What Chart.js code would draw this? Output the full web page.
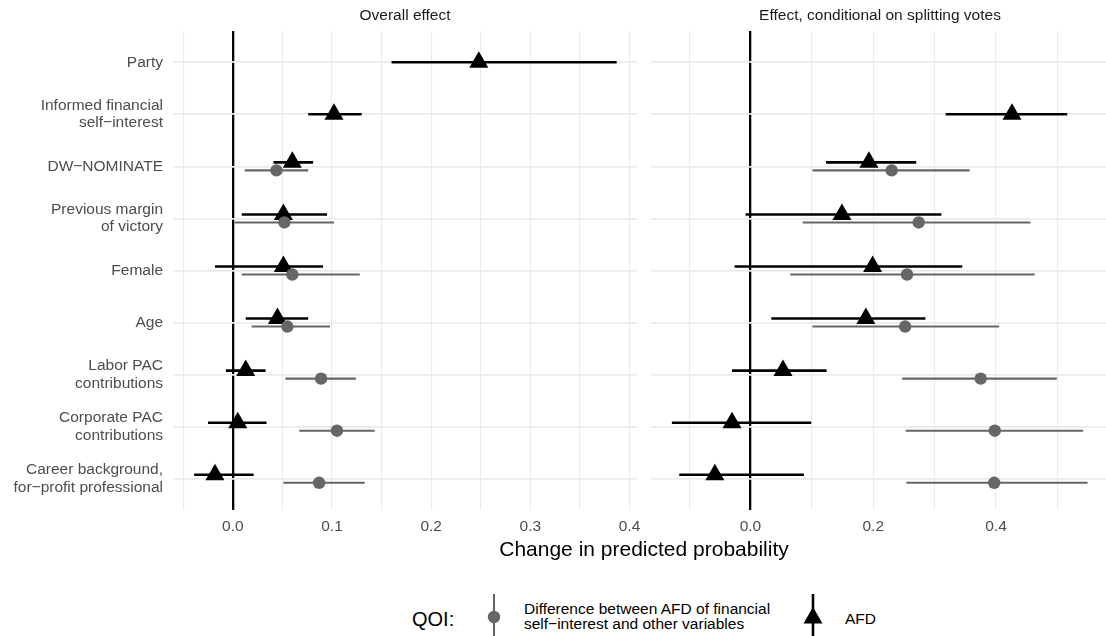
<!DOCTYPE html>
<html>
<head>
<meta charset="utf-8">
<script src="https://cdn.jsdelivr.net/npm/chart.js@4.4.0/dist/chart.umd.min.js"></script>
<style>
    body { margin: 0; width: 1106px; height: 636px; overflow: hidden; background: #fff; position: relative;
           font-family: "Liberation Sans", Arial, sans-serif; }
    canvas { position: absolute; top: 0; }
    #overallChart { left: 0; }
    #splitChart { left: 640px; }
    #xTitle { position: absolute; left: 444px; width: 400px; top: 537px; text-align: center; font-size: 21px; color: #000; }
    .lg { position: absolute; }
    #qoi { left: 412px; top: 608px; font-size: 20px; color: #000; }
    #diffText { left: 524px; top: 601px; font-size: 15.5px; line-height: 15px; color: #000; }
    #afdText { left: 845px; top: 610px; font-size: 15.5px; color: #000; }
</style>
</head>
<body>
<canvas id="overallChart" width="648" height="545"></canvas>
<canvas id="splitChart" width="480" height="545"></canvas>
<div id="xTitle">Change in predicted probability</div>
<div class="lg" id="qoi">QOI:</div>
<svg class="lg" style="left:484px;top:594px" width="20" height="42">
    <line x1="10" y1="0" x2="10" y2="42" stroke="#666" stroke-width="2.1"></line>
    <circle cx="10" cy="23" r="6.2" fill="#666"></circle>
</svg>
<div class="lg" id="diffText">Difference between AFD of financial<br>self−interest and other variables</div>
<svg class="lg" style="left:801px;top:594px" width="24" height="42">
    <line x1="12" y1="0" x2="12" y2="42" stroke="#000" stroke-width="2.6"></line>
    <polygon points="12,13 21.5,29.5 2.5,29.5" fill="#000"></polygon>
</svg>
<div class="lg" id="afdText">AFD</div>
<script>
// variables (top to bottom)
const variables = [
    'Party',
    ['Informed financial', 'self−interest'],
    'DW−NOMINATE',
    ['Previous margin', 'of victory'],
    'Female',
    'Age',
    ['Labor PAC', 'contributions'],
    ['Corporate PAC', 'contributions'],
    ['Career background,', 'for−profit professional']
];

// Overall effect
const afdOverall   = [0.248, 0.102, 0.060, 0.051, 0.051, 0.045, 0.013, 0.005, -0.018];
const afdOverallLo = [0.160, 0.076, 0.041, 0.009, -0.018, 0.013, -0.007, -0.025, -0.039];
const afdOverallHi = [0.387, 0.130, 0.081, 0.095, 0.091, 0.076, 0.033, 0.034, 0.021];
const diffOverall   = [null, null, 0.044, 0.052, 0.060, 0.055, 0.089, 0.105, 0.087];
const diffOverallLo = [null, null, 0.012, 0.002, 0.009, 0.019, 0.053, 0.067, 0.051];
const diffOverallHi = [null, null, 0.076, 0.102, 0.128, 0.098, 0.124, 0.143, 0.133];

// Effect, conditional on splitting votes
const afdSplit   = [null, 0.426, 0.193, 0.149, 0.199, 0.188, 0.053, -0.030, -0.058];
const afdSplitLo = [null, 0.318, 0.123, -0.008, -0.026, 0.034, -0.030, -0.128, -0.116];
const afdSplitHi = [null, 0.516, 0.270, 0.311, 0.345, 0.285, 0.124, 0.099, 0.087];
const diffSplit   = [null, null, 0.230, 0.274, 0.255, 0.252, 0.375, 0.398, 0.397];
const diffSplitLo = [null, null, 0.101, 0.085, 0.065, 0.101, 0.247, 0.253, 0.254];
const diffSplitHi = [null, null, 0.357, 0.456, 0.463, 0.405, 0.499, 0.542, 0.549];

// x ticks
const overallTicks = [-0.05, 0, 0.05, 0.1, 0.15, 0.2, 0.25, 0.3, 0.35, 0.4];
const overallTickLabels = ['', '0.0', '', '0.1', '', '0.2', '', '0.3', '', '0.4'];
const splitTicks = [-0.1, 0, 0.1, 0.2, 0.3, 0.4, 0.5];
const splitTickLabels = ['', '0.0', '', '0.2', '', '0.4', ''];

const FONT = '"Liberation Sans", Arial, sans-serif';
const DODGE = 0.077;

// strip title over the panel
const stripPlugin = {
    id: 'strip',
    afterDraw(chart, args, opts) {
        const ctx = chart.ctx;
        const area = chart.chartArea;
        ctx.save();
        ctx.font = '15.5px ' + FONT;
        ctx.fillStyle = '#1a1a1a';
        ctx.textAlign = 'center';
        ctx.textBaseline = 'middle';
        ctx.fillText(opts.text, (area.left + area.right) / 2, 16);
        ctx.restore();
    }
};

function pointsAndBars(est, lo, hi, other, dir) {
    const pts = [];
    const bars = [];
    est.forEach((v, i) => {
        if (v === null) return;
        const y = i + 1 + (other[i] !== null ? dir * DODGE : 0);
        pts.push({x: v, y: y});
        bars.push({x: lo[i], y: y}, {x: hi[i], y: y}, {x: null, y: null});
    });
    return {pts, bars};
}

function makeChart(id, title, afd, diff, xMin, xMax, ticks, tickLabels, showLabels, padding) {
    const a = pointsAndBars(afd[0], afd[1], afd[2], diff[0], -1);
    const d = pointsAndBars(diff[0], diff[1], diff[2], afd[0], 1);

    const ctx = document.getElementById(id).getContext('2d');
    return new Chart(ctx, {
        type: 'scatter',
        data: {
            datasets: [
                {
                    label: 'Difference',
                    data: d.pts,
                    pointStyle: 'circle',
                    pointRadius: 6.2,
                    pointBorderWidth: 0,
                    backgroundColor: '#666666',
                    borderColor: '#666666'
                },
                {
                    type: 'line',
                    label: 'Difference CI',
                    data: d.bars,
                    borderColor: '#666666',
                    borderWidth: 2.1,
                    pointRadius: 0,
                    spanGaps: false,
                    fill: false
                },
                {
                    label: 'AFD',
                    data: a.pts,
                    pointStyle: 'triangle',
                    pointRadius: 11,
                    pointBorderWidth: 0,
                    backgroundColor: '#000000',
                    borderColor: '#000000'
                },
                {
                    type: 'line',
                    label: 'AFD CI',
                    data: a.bars,
                    borderColor: '#000000',
                    borderWidth: 2.6,
                    pointRadius: 0,
                    spanGaps: false,
                    fill: false
                }
            ]
        },
        options: {
            responsive: false,
            animation: false,
            devicePixelRatio: 1,
            layout: { padding: padding },
            plugins: {
                legend: { display: false },
                tooltip: { enabled: false },
                strip: { text: title }
            },
            scales: {
                x: {
                    type: 'linear',
                    min: xMin,
                    max: xMax,
                    z: 0,
                    afterBuildTicks: s => { s.ticks = ticks.map(v => ({value: v})); },
                    afterFit: s => { s.height = 35; },
                    border: { display: false },
                    grid: {
                        drawTicks: false,
                        color: c => (c.tick && c.tick.value === 0) ? '#000000' : '#ebebeb',
                        lineWidth: c => (c.tick && c.tick.value === 0) ? 2.3 : 1.1
                    },
                    ticks: {
                        autoSkip: false,
                        maxRotation: 0,
                        padding: 7,
                        color: '#4d4d4d',
                        font: { family: FONT, size: 15.5 },
                        callback: (v, i) => tickLabels[i]
                    }
                },
                y: {
                    type: 'linear',
                    reverse: true,
                    min: 0.4,
                    max: 9.6,
                    z: -1,
                    afterBuildTicks: s => { s.ticks = variables.map((v, i) => ({value: i + 1})); },
                    afterFit: s => { s.width = showLabels ? 173 : 0; },
                    border: { display: false },
                    grid: { drawTicks: false, color: '#ebebeb', lineWidth: 1.7 },
                    ticks: {
                        display: showLabels,
                        autoSkip: false,
                        padding: 10,
                        color: '#4d4d4d',
                        font: { family: FONT, size: 15.5, lineHeight: 1.13 },
                        callback: (v, i) => variables[i]
                    }
                }
            }
        },
        plugins: [stripPlugin]
    });
}

makeChart('overallChart', 'Overall effect',
    [afdOverall, afdOverallLo, afdOverallHi],
    [diffOverall, diffOverallLo, diffOverallHi],
    -0.0603, 0.4075, overallTicks, overallTickLabels, true,
    {left: 0, right: 8, top: 31, bottom: 0});

makeChart('splitChart', 'Effect, conditional on splitting votes',
    [afdSplit, afdSplitLo, afdSplitHi],
    [diffSplit, diffSplitLo, diffSplitHi],
    -0.162, 0.584, splitTicks, splitTickLabels, false,
    {left: 10, right: 4, top: 31, bottom: 0});
</script>
</body>
</html>
